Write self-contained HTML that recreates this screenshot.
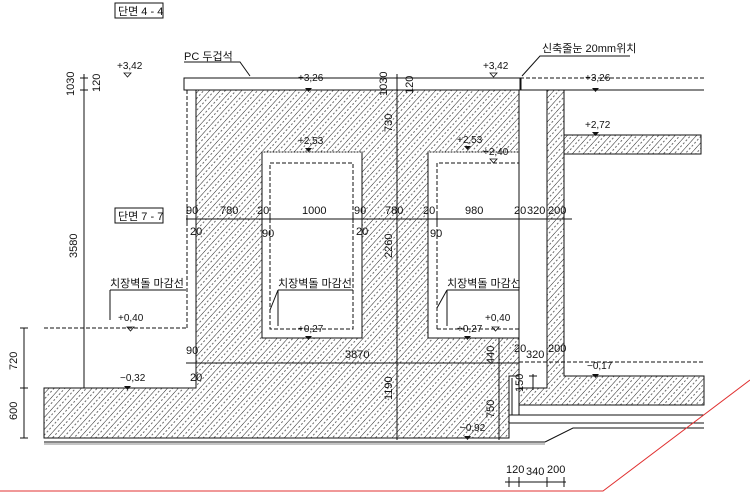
<!DOCTYPE html>
<html><head><meta charset="utf-8"><style>
html,body{margin:0;padding:0;background:#fff;}
svg{display:block;}
text{font-family:"Liberation Sans","Noto Sans CJK KR",sans-serif;font-size:11px;fill:#111;}
</style></head><body>
<svg width="750" height="502" viewBox="0 0 750 502" xmlns="http://www.w3.org/2000/svg">
<defs>
<pattern id="h" width="8" height="8" patternUnits="userSpaceOnUse" patternTransform="rotate(42)">
<line x1="0" y1="0" x2="0" y2="8" stroke="#222" stroke-width="1"/>
<line x1="4" y1="0" x2="4" y2="8" stroke="#444" stroke-width="0.8" stroke-dasharray="2,2"/>
</pattern>
</defs>
<g stroke="#111" stroke-width="1" fill="none">
<path d="M196,90 H519 V376 H509 V438 H44 V388 H196 Z M262,152 H362 V338 H262 Z M428,152 H519 V338 H428 Z" fill="url(#h)" fill-rule="evenodd"/>
<path d="M547,90 H564 V376 H704 V405 H519 V388 H547 Z" fill="url(#h)"/>
<path d="M564,135 H701 V154 H564 Z" fill="url(#h)" stroke="none"/>
<path d="M564,135 H701 V154 H564"/>
<rect x="184" y="78" width="336" height="12" fill="#fff"/>
<line x1="520" y1="78" x2="704" y2="78" stroke-dasharray="4,2"/>
<line x1="520" y1="90" x2="704" y2="90"/>
<line x1="521" y1="78" x2="521" y2="90"/>
<path d="M187,90 V328 M196,90 V388" stroke-dasharray="4,2"/>
<rect x="270" y="163" width="83" height="166" stroke-dasharray="4,2"/>
<path d="M437,329 V163 H519" stroke-dasharray="4,2"/>
<path d="M437,329 H519" stroke-dasharray="4,2"/>
<path d="M262,152 H362 M428,152 H519" stroke="#999" stroke-dasharray="2,1"/>
<line x1="519" y1="90" x2="519" y2="376" stroke-dasharray="4,2"/>
<line x1="44" y1="328" x2="186" y2="328" stroke-dasharray="4,2"/>
<line x1="519" y1="362" x2="704" y2="362" stroke-dasharray="4,2"/>
<line x1="196" y1="363" x2="519" y2="363"/>
<line x1="397" y1="74" x2="397" y2="440"/>
<line x1="499" y1="338" x2="499" y2="440"/>
<path d="M509,376 H519 V405"/>
<line x1="512" y1="378" x2="512" y2="415"/>
<line x1="44" y1="442" x2="545" y2="442"/>
<line x1="44" y1="444" x2="545" y2="444" stroke="#888"/>
<path d="M545,442 L573,428 H704"/>
<line x1="509" y1="423" x2="704" y2="423"/>
<line x1="509" y1="415" x2="704" y2="415"/>
<line x1="519" y1="405" x2="519" y2="415"/>
<line x1="84" y1="74" x2="84" y2="388"/>
<path d="M80,78 H88 M80,90 H88"/>
<line x1="24" y1="328" x2="24" y2="438"/>
<path d="M20,328 H28 M20,388 H28 M20,438 H28"/>
<line x1="186" y1="219" x2="572" y2="219"/>
<path d="M187,215 V223 M196,215 V223 M262,215 V223 M270,215 V223 M353,215 V223 M362,215 V223 M428,215 V223 M437,215 V223 M519,215 V223 M547,215 V223 M564,215 V223"/>
<line x1="186" y1="363" x2="196" y2="363"/>
<line x1="505" y1="482" x2="566" y2="482"/>
<path d="M509,477 V487 M519,477 V487 M547,477 V487 M564,477 V487"/>
<path d="M533,374 V390 M529,376 H537"/>
<path d="M184,62 H240 L250,76"/>
<path d="M630,56 H540 L522,76"/>
<path d="M110,290 V320 M110,290 H186"/>
<path d="M278,290 V326 M278,290 L270,310 M278,290 H353"/>
<path d="M447,290 V326 M447,290 L437,308 M447,290 H519"/>
<path d="M0,491 H603 L750,380" stroke="#e03030"/>
</g>
<g stroke="#111" fill="none"><rect x="115" y="3" width="48" height="15"/><rect x="115" y="208" width="48" height="15"/></g>
<text x="118" y="15">단면 4 - 4</text>
<text x="118" y="220">단면 7 - 7</text>
<text x="184" y="60">PC 두겁석</text>
<text x="542" y="52">신축줄눈 20mm위치</text>
<g>
<text x="117" y="69" style="font-size:10px">+3,42</text>
<text x="298" y="81" style="font-size:10px">+3,26</text>
<text x="298" y="144" style="font-size:10px">+2,53</text>
<text x="483" y="69" style="font-size:10px">+3,42</text>
<text x="585" y="81" style="font-size:10px">+3,26</text>
<text x="585" y="128" style="font-size:10px">+2,72</text>
<text x="457" y="143" style="font-size:10px">+2,53</text>
<text x="483" y="155" style="font-size:10px">+2,40</text>
<text x="118" y="321" style="font-size:10px">+0,40</text>
<text x="298" y="332" style="font-size:10px">+0,27</text>
<text x="457" y="332" style="font-size:10px">+0,27</text>
<text x="485" y="321" style="font-size:10px">+0,40</text>
<text x="120" y="381" style="font-size:10px">−0,32</text>
<text x="587" y="369" style="font-size:10px">−0,17</text>
<text x="460" y="431" style="font-size:10px">−0,92</text>
</g>
<g fill="#111">
<path d="M305,88 h7 l-3.5,4z M305,148 h7 l-3.5,4z M592,88 h7 l-3.5,4z M592,132 h7 l-3.5,4z M464,146 h7 l-3.5,4z M305,336 h7 l-3.5,4z M464,336 h7 l-3.5,4z M124,386 h7 l-3.5,4z M592,374 h7 l-3.5,4z M464,436 h7 l-3.5,4z"/>
</g>
<g fill="none" stroke="#111" stroke-width="0.8">
<path d="M124,73 h7 l-3.5,4z M490,73 h7 l-3.5,4z M490,159 h7 l-3.5,4z M127,327 h7 l-3.5,4z M492,327 h7 l-3.5,4z"/>
</g>
<text x="110" y="287">치장벽돌 마감선</text>
<text x="278" y="287">치장벽돌 마감선</text>
<text x="447" y="287">치장벽돌 마감선</text>
<g>
<text x="186" y="214">90</text><text x="220" y="214">780</text><text x="257" y="214">20</text>
<text x="302" y="214">1000</text><text x="354" y="214">90</text><text x="385" y="214">780</text>
<text x="423" y="214">20</text><text x="465" y="214">980</text><text x="514" y="214">20</text>
<text x="527" y="214">320</text><text x="548" y="214">200</text>
<text x="190" y="235">20</text><text x="262" y="237">90</text><text x="356" y="235">20</text><text x="430" y="237">90</text>
<text x="186" y="354">90</text><text x="190" y="381">20</text><text x="345" y="358">3870</text>
<text x="514" y="352">20</text><text x="526" y="358">320</text><text x="548" y="352">200</text>
<text x="506" y="473">120</text><text x="526" y="475">340</text><text x="547" y="473">200</text>
</g>
<g>
<text transform="translate(74,96) rotate(-90)">1030</text>
<text transform="translate(100,92) rotate(-90)">120</text>
<text transform="translate(77,258) rotate(-90)">3580</text>
<text transform="translate(17,370) rotate(-90)">720</text>
<text transform="translate(17,420) rotate(-90)">600</text>
<text transform="translate(387,96) rotate(-90)">1030</text>
<text transform="translate(413,94) rotate(-90)">120</text>
<text transform="translate(392,132) rotate(-90)">730</text>
<text transform="translate(392,258) rotate(-90)">2260</text>
<text transform="translate(392,400) rotate(-90)">1190</text>
<text transform="translate(494,364) rotate(-90)">440</text>
<text transform="translate(494,418) rotate(-90)">750</text>
<text transform="translate(523,392) rotate(-90)">150</text>
</g>
</svg>
</body></html>
